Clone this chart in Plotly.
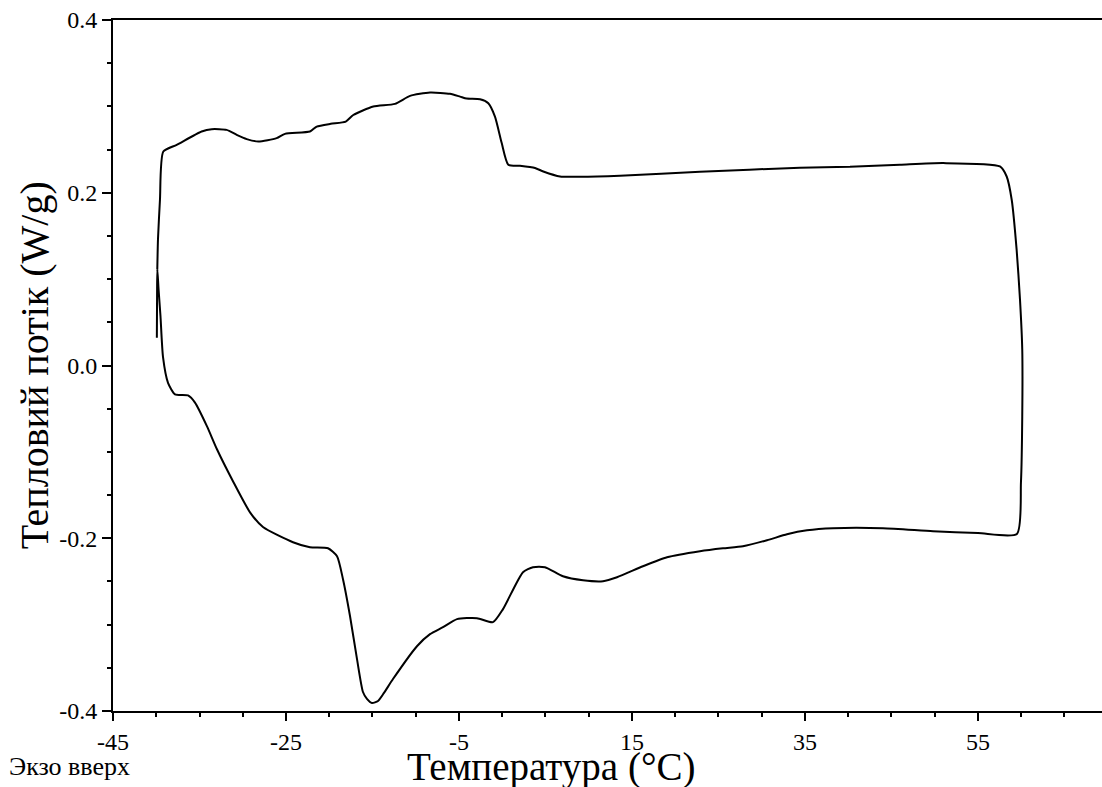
import plotly.graph_objects as go

# Temperature (°C) and heat flow (W/g), one continuous DSC loop
temperature = [
    -39.93, -39.90, -39.87, -39.73, -39.51, -39.22, -38.64, -37.83, -36.33, -35.52,
    -34.13, -32.98, -31.13, -29.16, -27.66, -24.19, -22.23, -20.14, -19.10, -18.41,
    -17.60, -16.79, -16.10, -15.64, -15.06, -14.36, -13.67, -12.63, -9.86, -8.35, -6.85, -5.23,
    -2.92, -1.07, 0.09, 2.40, 3.55, 4.94, 7.02, 9.34, 11.65, 13.27,
    16.27, 19.05, 22.86, 25.52, 27.83, 30.61, 32.92, 35.23, 38.24, 44.02,
    49.80, 55.00, 59.50, 59.97, 60.12, 60.12, 59.86, 59.47, 58.90, 58.32,
    57.54, 50.99, 45.98, 40.20, 34.42, 22.86, 13.61, 8.99, 6.68, 4.75,
    3.79, 2.05, 0.70, -0.06, -0.84, -1.61, -2.57, -4.11, -4.88, -6.04,
    -8.35, -10.66, -12.40, -14.91, -17.22, -18.09, -19.83, -21.45, -22.23, -25.12,
    -26.08, -28.20, -29.54, -30.70, -31.86, -33.59, -34.75, -37.64, -39.18, -39.57,
    -39.80, -39.88,
]
heat_flow = [
    0.032, 0.090, 0.111, 0.088, 0.057, 0.010, -0.020, -0.0335, -0.0347, -0.043,
    -0.0705, -0.097, -0.134, -0.170, -0.187, -0.2046, -0.2104, -0.2116, -0.2208, -0.2474,
    -0.290, -0.340, -0.378, -0.386, -0.3908, -0.3884, -0.379, -0.363, -0.325, -0.311, -0.303, -0.2936,
    -0.2925, -0.2971, -0.282, -0.2393, -0.2335, -0.2335, -0.244, -0.2486, -0.2497, -0.2451,
    -0.2324, -0.222, -0.215, -0.2116, -0.2092, -0.2023, -0.1954, -0.1908, -0.1884, -0.1884,
    -0.1919, -0.194, -0.195, -0.1353, -0.0586, 0.0185, 0.0763, 0.1341, 0.1919, 0.2188,
    0.2304, 0.2343, 0.2324, 0.230, 0.229, 0.2243, 0.2197, 0.2185, 0.2188, 0.2246,
    0.2286, 0.2312, 0.2324, 0.2575, 0.2882, 0.3037, 0.3083, 0.309, 0.3113, 0.3145,
    0.316, 0.3121, 0.3029, 0.2998, 0.290, 0.2824, 0.2798, 0.2766, 0.2709, 0.2682,
    0.2632, 0.2593, 0.2621, 0.267, 0.2728, 0.2736, 0.2709, 0.2555, 0.2477, 0.192,
    0.146, 0.111,
]

x_tickvals = [-45, -25, -5, 15, 35, 55]
x_ticktext = ["-45", "-25", "-5", "15", "35", "55"]
y_tickvals = [-0.4, -0.2, 0.0, 0.2, 0.4]
y_ticktext = ["-0.4", "-0.2", "0.0", "0.2", "0.4"]

x_title = "Температура (°C)"
y_title = "Тепловий потік (W/g)"
corner_note = "Экзо вверх"

FONT = "Liberation Serif"

fig = go.Figure()
fig.add_trace(go.Scatter(
    x=temperature, y=heat_flow, mode="lines",
    line=dict(color="black", width=2, shape="spline", smoothing=0.6),
    showlegend=False, hoverinfo="skip",
))

fig.update_layout(
    width=1102, height=787,
    margin=dict(l=113, r=0, t=20, b=76),
    paper_bgcolor="white", plot_bgcolor="white",
    font=dict(family=FONT, color="black", size=24),
    xaxis=dict(
        range=[-45, 69.34], showgrid=False, zeroline=False,
        showline=True, linecolor="black", linewidth=2, mirror=True,
        tickmode="array", tickvals=x_tickvals, ticktext=x_ticktext,
        ticks="outside", ticklen=8, tickwidth=1.5, tickcolor="black",
        tickfont=dict(family=FONT, size=24, color="black"),
        minor=dict(tickmode="linear", tick0=-45, dtick=5, ticks="outside",
                   ticklen=4, tickwidth=1.5, tickcolor="black", showgrid=False),
    ),
    yaxis=dict(
        range=[-0.4, 0.4], showgrid=False, zeroline=False,
        showline=True, linecolor="black", linewidth=2, mirror=False,
        tickmode="array", tickvals=y_tickvals, ticktext=y_ticktext,
        ticks="outside", ticklen=9, tickwidth=1.5, tickcolor="black",
        tickfont=dict(family=FONT, size=24, color="black"),
        minor=dict(tickmode="linear", tick0=-0.4, dtick=0.05, ticks="outside",
                   ticklen=4, tickwidth=1.5, tickcolor="black", showgrid=False),
    ),
    annotations=[
        dict(text=x_title, xref="paper", yref="paper", x=0.443, y=-0.081,
             xanchor="center", yanchor="middle", showarrow=False,
             font=dict(family=FONT, size=39, color="black")),
        dict(text=y_title, xref="paper", yref="paper", x=-0.079, y=0.5,
             xanchor="center", yanchor="middle", textangle=-90, showarrow=False,
             font=dict(family=FONT, size=40, color="black")),
        dict(text=corner_note, xref="paper", yref="paper", x=-0.1072, y=-0.08,
             xanchor="left", yanchor="middle", showarrow=False,
             font=dict(family=FONT, size=26, color="black")),
    ],
)

fig.write_html("out.html")
